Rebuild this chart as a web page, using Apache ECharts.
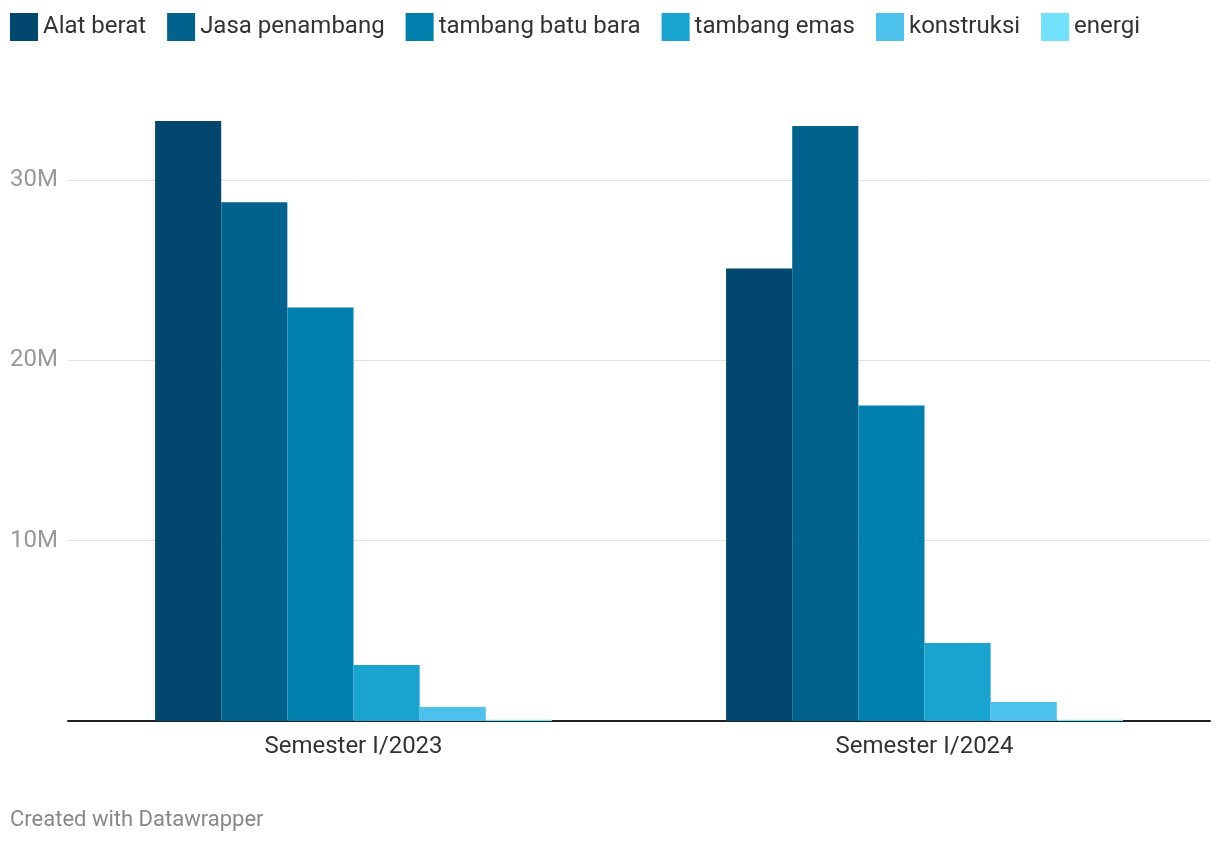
<!DOCTYPE html>
<html>
<head>
<meta charset="utf-8">
<script src="https://cdn.jsdelivr.net/npm/echarts@6/dist/echarts.min.js"></script>
<style>
html,body{margin:0;padding:0;background:#fff;}
#chart{width:1220px;height:844px;}
</style>
</head>
<body>
<div id="chart"></div>
<script>
const categories = ['Semester I/2023', 'Semester I/2024'];
const seriesNames = ['Alat berat', 'Jasa penambang', 'tambang batu bara', 'tambang emas', 'konstruksi', 'energi'];
const alatBerat = [33.28e6, 25.1e6];
const jasaPenambang = [28.78e6, 33.0e6];
const tambangBatuBara = [22.94e6, 17.5e6];
const tambangEmas = [3.11e6, 4.33e6];
const konstruksi = [0.78e6, 1.06e6];
const energi = [0.07e6, 0.07e6];
const yTicks = [0, 10e6, 20e6, 30e6];
const colors = ['#01476e', '#00628d', '#0080ad', '#19a3cf', '#4cc1ed', '#72e0ff'];

const values = [alatBerat, jasaPenambang, tambangBatuBara, tambangEmas, konstruksi, energi];
const chart = echarts.init(document.getElementById('chart'));
chart.setOption({
  animation: false,
  color: colors,
  textStyle: { fontFamily: 'Roboto' },
  legend: {
    left: 10, top: 13, padding: 0,
    itemWidth: 28, itemHeight: 28, itemGap: 21,
    icon: 'rect',
    textStyle: { fontSize: 24, color: '#333', fontFamily: 'Roboto' },
    data: seriesNames
  },
  graphic: [{
    type: 'text', left: 10, top: 809,
    style: { text: 'Created with Datawrapper', fill: '#888', font: '22px Roboto' }
  }],
  grid: { left: 68, right: 10, top: 90, bottom: 123 },
  xAxis: {
    type: 'category', data: categories,
    axisLine: { lineStyle: { color: '#222', width: 2 } },
    axisTick: { show: false },
    axisLabel: { fontSize: 24, color: '#333', margin: 14 }
  },
  yAxis: {
    type: 'value', min: 0, max: 35e6, interval: 10e6,
    axisLine: { show: false }, axisTick: { show: false },
    splitLine: { showMinLine: false, showMaxLine: false, lineStyle: { color: '#e2e2e2', width: 1 } },
    axisLabel: {
      showMinLabel: false, showMaxLabel: false,
      align: 'left', margin: 58, fontSize: 24, color: '#999',
      formatter: v => yTicks.includes(v) && v > 0 ? (v / 1e6) + 'M' : ''
    }
  },
  series: seriesNames.map((n, i) => ({
    name: n, type: 'bar', data: values[i],
    barGap: '0%', barCategoryGap: '30.5%'
  }))
});
</script>
</body>
</html>
